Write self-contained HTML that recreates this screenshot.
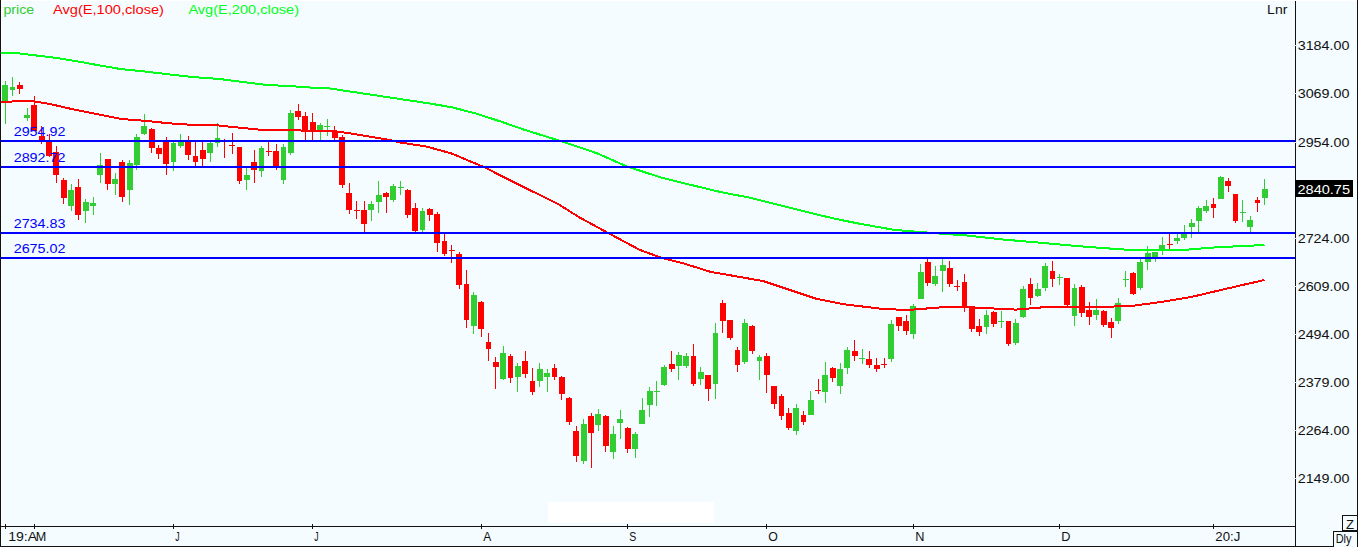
<!DOCTYPE html>
<html><head><meta charset="utf-8"><title>chart</title>
<style>
html,body{margin:0;padding:0;width:1358px;height:547px;overflow:hidden;background:#F4FCFF;}
svg{position:absolute;left:0;top:0;display:block;}
text{font-family:"Liberation Sans",sans-serif;}
</style></head><body>
<svg width="1358" height="547" viewBox="0 0 1358 547">
<rect x="0" y="0" width="1358" height="547" fill="#F4FCFF"/>
<rect x="0" y="0" width="1358" height="1" fill="#FFFFFF"/>
<rect x="1" y="0" width="1" height="547" fill="#FFFFFF"/>
<rect x="548" y="502" width="166" height="21" fill="#FFFFFF"/>

<g shape-rendering="crispEdges">
<rect x="5" y="81.0" width="1" height="43.2" fill="#32CD32"/>
<rect x="2" y="85.0" width="6" height="16.2" fill="#32CD32"/>
<rect x="12" y="77.0" width="1" height="19.2" fill="#32CD32"/>
<rect x="10" y="87.0" width="5" height="3.2" fill="#32CD32"/>
<rect x="19" y="82.0" width="1" height="12.2" fill="#FF0000"/>
<rect x="17" y="85.0" width="6" height="4.2" fill="#FF0000"/>
<rect x="27" y="108.0" width="1" height="13.2" fill="#32CD32"/>
<rect x="24" y="114.6" width="6" height="3.6" fill="#32CD32"/>
<rect x="34" y="96.0" width="1" height="35.2" fill="#FF0000"/>
<rect x="31" y="105.0" width="6" height="26.2" fill="#FF0000"/>
<rect x="41" y="126.0" width="1" height="18.2" fill="#FF0000"/>
<rect x="39" y="136.0" width="6" height="5.2" fill="#FF0000"/>
<rect x="49" y="134.0" width="1" height="23.2" fill="#FF0000"/>
<rect x="46" y="141.7" width="6" height="14.5" fill="#FF0000"/>
<rect x="56" y="146.0" width="1" height="37.2" fill="#FF0000"/>
<rect x="53" y="152.0" width="6" height="23.2" fill="#FF0000"/>
<rect x="63" y="178.0" width="1" height="25.7" fill="#FF0000"/>
<rect x="61" y="180.0" width="6" height="17.7" fill="#FF0000"/>
<rect x="71" y="184.0" width="1" height="26.7" fill="#32CD32"/>
<rect x="68" y="190.0" width="6" height="15.7" fill="#32CD32"/>
<rect x="78" y="179.0" width="1" height="40.8" fill="#FF0000"/>
<rect x="75" y="187.0" width="6" height="27.8" fill="#FF0000"/>
<rect x="85" y="198.5" width="1" height="24.3" fill="#32CD32"/>
<rect x="83" y="202.0" width="6" height="8.7" fill="#32CD32"/>
<rect x="93" y="197.0" width="1" height="17.8" fill="#32CD32"/>
<rect x="90" y="203.0" width="6" height="2.7" fill="#32CD32"/>
<rect x="100" y="153.3" width="1" height="29.3" fill="#32CD32"/>
<rect x="97" y="165.0" width="6" height="9.6" fill="#32CD32"/>
<rect x="107" y="159.0" width="1" height="30.7" fill="#FF0000"/>
<rect x="105" y="159.0" width="6" height="24.6" fill="#FF0000"/>
<rect x="115" y="173.4" width="1" height="21.3" fill="#32CD32"/>
<rect x="112" y="179.0" width="6" height="4.6" fill="#32CD32"/>
<rect x="122" y="159.7" width="1" height="42.0" fill="#FF0000"/>
<rect x="119" y="162.0" width="6" height="34.7" fill="#FF0000"/>
<rect x="129" y="159.7" width="1" height="45.0" fill="#32CD32"/>
<rect x="127" y="163.3" width="6" height="26.4" fill="#32CD32"/>
<rect x="136" y="134.0" width="1" height="35.5" fill="#32CD32"/>
<rect x="134" y="137.2" width="6" height="27.3" fill="#32CD32"/>
<rect x="144" y="114.0" width="1" height="21.4" fill="#32CD32"/>
<rect x="141" y="126.0" width="6" height="8.0" fill="#32CD32"/>
<rect x="151" y="128.0" width="1" height="25.1" fill="#FF0000"/>
<rect x="149" y="128.7" width="6" height="19.7" fill="#FF0000"/>
<rect x="158" y="145.2" width="1" height="13.3" fill="#FF0000"/>
<rect x="156" y="148.2" width="6" height="5.3" fill="#FF0000"/>
<rect x="166" y="137.2" width="1" height="37.4" fill="#FF0000"/>
<rect x="163" y="141.2" width="6" height="22.7" fill="#FF0000"/>
<rect x="173" y="142.2" width="1" height="28.4" fill="#32CD32"/>
<rect x="171" y="143.2" width="5" height="18.3" fill="#32CD32"/>
<rect x="180" y="134.2" width="1" height="14.2" fill="#32CD32"/>
<rect x="178" y="141.8" width="6" height="4.6" fill="#32CD32"/>
<rect x="188" y="136.2" width="1" height="23.3" fill="#FF0000"/>
<rect x="185" y="142.2" width="6" height="12.3" fill="#FF0000"/>
<rect x="195" y="142.2" width="1" height="23.3" fill="#FF0000"/>
<rect x="193" y="156.3" width="5" height="5.2" fill="#FF0000"/>
<rect x="202" y="141.2" width="1" height="25.4" fill="#FF0000"/>
<rect x="200" y="149.7" width="6" height="9.5" fill="#FF0000"/>
<rect x="210" y="142.3" width="1" height="19.3" fill="#32CD32"/>
<rect x="207" y="142.9" width="6" height="10.2" fill="#32CD32"/>
<rect x="217" y="123.2" width="1" height="23.3" fill="#32CD32"/>
<rect x="215" y="137.8" width="5" height="4.7" fill="#32CD32"/>
<rect x="224" y="139.1" width="1" height="18.9" fill="#FF0000"/>
<rect x="222" y="140.5" width="6" height="1.0" fill="#FF0000"/>
<rect x="232" y="132.9" width="1" height="21.1" fill="#FF0000"/>
<rect x="229" y="145.4" width="6" height="1.0" fill="#FF0000"/>
<rect x="239" y="146.9" width="1" height="36.8" fill="#FF0000"/>
<rect x="237" y="146.9" width="5" height="34.3" fill="#FF0000"/>
<rect x="246" y="167.8" width="1" height="21.9" fill="#32CD32"/>
<rect x="244" y="175.0" width="6" height="4.7" fill="#32CD32"/>
<rect x="254" y="149.7" width="1" height="33.5" fill="#FF0000"/>
<rect x="251" y="162.0" width="6" height="7.6" fill="#FF0000"/>
<rect x="261" y="145.7" width="1" height="30.9" fill="#32CD32"/>
<rect x="259" y="147.7" width="5" height="22.9" fill="#32CD32"/>
<rect x="268" y="141.7" width="1" height="14.2" fill="#FF0000"/>
<rect x="266" y="151.3" width="6" height="1.0" fill="#FF0000"/>
<rect x="276" y="143.7" width="1" height="26.3" fill="#FF0000"/>
<rect x="273" y="150.9" width="6" height="15.1" fill="#FF0000"/>
<rect x="283" y="143.7" width="1" height="40.0" fill="#32CD32"/>
<rect x="281" y="146.9" width="5" height="32.8" fill="#32CD32"/>
<rect x="290" y="110.1" width="1" height="44.4" fill="#32CD32"/>
<rect x="288" y="113.1" width="6" height="39.4" fill="#32CD32"/>
<rect x="298" y="104.0" width="1" height="16.3" fill="#FF0000"/>
<rect x="295" y="111.0" width="6" height="5.7" fill="#FF0000"/>
<rect x="305" y="111.7" width="1" height="28.7" fill="#FF0000"/>
<rect x="302" y="116.1" width="6" height="14.3" fill="#FF0000"/>
<rect x="312" y="113.0" width="1" height="27.4" fill="#FF0000"/>
<rect x="310" y="122.1" width="6" height="8.7" fill="#FF0000"/>
<rect x="320" y="123.1" width="1" height="17.3" fill="#32CD32"/>
<rect x="317" y="125.1" width="6" height="4.9" fill="#32CD32"/>
<rect x="327" y="119.1" width="1" height="16.9" fill="#32CD32"/>
<rect x="324" y="126.1" width="6" height="1.0" fill="#32CD32"/>
<rect x="334" y="125.7" width="1" height="14.7" fill="#FF0000"/>
<rect x="332" y="130.6" width="6" height="7.8" fill="#FF0000"/>
<rect x="342" y="135.2" width="1" height="52.5" fill="#FF0000"/>
<rect x="339" y="136.8" width="6" height="48.2" fill="#FF0000"/>
<rect x="349" y="183.0" width="1" height="30.8" fill="#FF0000"/>
<rect x="346" y="193.1" width="6" height="16.7" fill="#FF0000"/>
<rect x="356" y="200.7" width="1" height="18.3" fill="#FF0000"/>
<rect x="354" y="210.2" width="6" height="1.0" fill="#FF0000"/>
<rect x="364" y="200.7" width="1" height="31.8" fill="#FF0000"/>
<rect x="361" y="210.2" width="6" height="13.7" fill="#FF0000"/>
<rect x="371" y="200.7" width="1" height="20.3" fill="#32CD32"/>
<rect x="368" y="204.2" width="6" height="5.6" fill="#32CD32"/>
<rect x="378" y="181.0" width="1" height="32.0" fill="#32CD32"/>
<rect x="376" y="195.1" width="6" height="6.6" fill="#32CD32"/>
<rect x="386" y="192.1" width="1" height="20.9" fill="#FF0000"/>
<rect x="383" y="192.7" width="6" height="4.2" fill="#FF0000"/>
<rect x="393" y="184.0" width="1" height="17.7" fill="#32CD32"/>
<rect x="390" y="186.1" width="6" height="13.6" fill="#32CD32"/>
<rect x="400" y="181.0" width="1" height="13.9" fill="#32CD32"/>
<rect x="398" y="186.8" width="6" height="1.0" fill="#32CD32"/>
<rect x="407" y="189.1" width="1" height="28.7" fill="#FF0000"/>
<rect x="405" y="189.5" width="6" height="25.5" fill="#FF0000"/>
<rect x="415" y="203.2" width="1" height="28.7" fill="#FF0000"/>
<rect x="412" y="208.2" width="6" height="22.9" fill="#FF0000"/>
<rect x="422" y="208.2" width="1" height="23.7" fill="#32CD32"/>
<rect x="420" y="211.2" width="5" height="18.7" fill="#32CD32"/>
<rect x="429" y="208.2" width="1" height="12.8" fill="#FF0000"/>
<rect x="427" y="209.2" width="6" height="5.8" fill="#FF0000"/>
<rect x="437" y="212.2" width="1" height="39.4" fill="#FF0000"/>
<rect x="434" y="214.2" width="6" height="29.0" fill="#FF0000"/>
<rect x="444" y="233.0" width="1" height="23.3" fill="#FF0000"/>
<rect x="442" y="241.1" width="5" height="12.8" fill="#FF0000"/>
<rect x="451" y="245.1" width="1" height="18.3" fill="#FF0000"/>
<rect x="449" y="250.1" width="6" height="1.0" fill="#FF0000"/>
<rect x="459" y="252.1" width="1" height="36.4" fill="#FF0000"/>
<rect x="456" y="254.1" width="6" height="30.8" fill="#FF0000"/>
<rect x="466" y="270.2" width="1" height="57.5" fill="#FF0000"/>
<rect x="464" y="283.9" width="5" height="35.8" fill="#FF0000"/>
<rect x="473" y="292.3" width="1" height="41.5" fill="#32CD32"/>
<rect x="471" y="295.0" width="6" height="30.7" fill="#32CD32"/>
<rect x="481" y="300.8" width="1" height="36.0" fill="#FF0000"/>
<rect x="478" y="302.0" width="6" height="26.7" fill="#FF0000"/>
<rect x="488" y="333.1" width="1" height="27.7" fill="#FF0000"/>
<rect x="486" y="342.1" width="5" height="6.7" fill="#FF0000"/>
<rect x="495" y="357.2" width="1" height="31.8" fill="#FF0000"/>
<rect x="493" y="362.2" width="6" height="4.7" fill="#FF0000"/>
<rect x="503" y="346.1" width="1" height="33.4" fill="#32CD32"/>
<rect x="500" y="353.2" width="6" height="25.7" fill="#32CD32"/>
<rect x="510" y="354.2" width="1" height="28.7" fill="#FF0000"/>
<rect x="508" y="356.2" width="5" height="21.9" fill="#FF0000"/>
<rect x="517" y="363.2" width="1" height="28.4" fill="#32CD32"/>
<rect x="515" y="366.2" width="6" height="10.7" fill="#32CD32"/>
<rect x="525" y="351.2" width="1" height="26.9" fill="#FF0000"/>
<rect x="522" y="361.2" width="6" height="12.9" fill="#FF0000"/>
<rect x="532" y="368.3" width="1" height="26.7" fill="#FF0000"/>
<rect x="530" y="381.3" width="5" height="10.9" fill="#FF0000"/>
<rect x="539" y="363.2" width="1" height="23.8" fill="#32CD32"/>
<rect x="537" y="369.3" width="6" height="11.2" fill="#32CD32"/>
<rect x="547" y="369.3" width="1" height="22.9" fill="#32CD32"/>
<rect x="544" y="373.3" width="6" height="3.6" fill="#32CD32"/>
<rect x="554" y="363.8" width="1" height="16.3" fill="#FF0000"/>
<rect x="552" y="368.3" width="5" height="8.6" fill="#FF0000"/>
<rect x="561" y="376.3" width="1" height="23.9" fill="#FF0000"/>
<rect x="559" y="377.3" width="6" height="16.9" fill="#FF0000"/>
<rect x="569" y="397.2" width="1" height="28.0" fill="#FF0000"/>
<rect x="566" y="397.9" width="6" height="24.1" fill="#FF0000"/>
<rect x="576" y="426.0" width="1" height="36.2" fill="#FF0000"/>
<rect x="573" y="430.8" width="6" height="25.1" fill="#FF0000"/>
<rect x="583" y="419.1" width="1" height="44.9" fill="#32CD32"/>
<rect x="581" y="424.0" width="6" height="37.0" fill="#32CD32"/>
<rect x="591" y="412.8" width="1" height="55.2" fill="#FF0000"/>
<rect x="588" y="415.9" width="6" height="17.0" fill="#FF0000"/>
<rect x="598" y="408.9" width="1" height="22.1" fill="#32CD32"/>
<rect x="595" y="414.0" width="6" height="10.9" fill="#32CD32"/>
<rect x="605" y="415.0" width="1" height="37.0" fill="#FF0000"/>
<rect x="603" y="415.9" width="6" height="30.2" fill="#FF0000"/>
<rect x="613" y="425.7" width="1" height="33.4" fill="#32CD32"/>
<rect x="610" y="434.1" width="6" height="17.9" fill="#32CD32"/>
<rect x="620" y="409.9" width="1" height="29.2" fill="#32CD32"/>
<rect x="617" y="419.1" width="6" height="3.9" fill="#32CD32"/>
<rect x="627" y="426.9" width="1" height="26.4" fill="#FF0000"/>
<rect x="625" y="427.9" width="6" height="21.1" fill="#FF0000"/>
<rect x="635" y="432.0" width="1" height="26.1" fill="#32CD32"/>
<rect x="632" y="434.1" width="6" height="14.9" fill="#32CD32"/>
<rect x="642" y="397.9" width="1" height="25.8" fill="#32CD32"/>
<rect x="639" y="410.1" width="6" height="13.9" fill="#32CD32"/>
<rect x="649" y="386.6" width="1" height="30.6" fill="#32CD32"/>
<rect x="647" y="391.0" width="6" height="13.8" fill="#32CD32"/>
<rect x="656" y="381.0" width="1" height="25.0" fill="#32CD32"/>
<rect x="654" y="390.5" width="6" height="1.0" fill="#32CD32"/>
<rect x="664" y="365.0" width="1" height="20.6" fill="#32CD32"/>
<rect x="661" y="366.8" width="6" height="18.2" fill="#32CD32"/>
<rect x="671" y="351.0" width="1" height="20.8" fill="#FF0000"/>
<rect x="669" y="364.2" width="6" height="5.0" fill="#FF0000"/>
<rect x="678" y="351.9" width="1" height="27.8" fill="#32CD32"/>
<rect x="676" y="354.7" width="6" height="11.2" fill="#32CD32"/>
<rect x="686" y="353.2" width="1" height="14.9" fill="#32CD32"/>
<rect x="683" y="355.8" width="6" height="10.1" fill="#32CD32"/>
<rect x="693" y="343.8" width="1" height="42.3" fill="#FF0000"/>
<rect x="691" y="355.8" width="5" height="28.3" fill="#FF0000"/>
<rect x="700" y="366.8" width="1" height="18.2" fill="#32CD32"/>
<rect x="698" y="372.3" width="6" height="6.3" fill="#32CD32"/>
<rect x="708" y="375.1" width="1" height="25.9" fill="#FF0000"/>
<rect x="705" y="375.1" width="6" height="13.8" fill="#FF0000"/>
<rect x="715" y="322.9" width="1" height="75.9" fill="#32CD32"/>
<rect x="713" y="332.8" width="5" height="51.3" fill="#32CD32"/>
<rect x="722" y="299.9" width="1" height="33.1" fill="#FF0000"/>
<rect x="720" y="302.7" width="6" height="18.2" fill="#FF0000"/>
<rect x="730" y="319.6" width="1" height="20.6" fill="#FF0000"/>
<rect x="727" y="320.3" width="6" height="17.7" fill="#FF0000"/>
<rect x="737" y="346.8" width="1" height="25.2" fill="#FF0000"/>
<rect x="735" y="349.9" width="5" height="15.0" fill="#FF0000"/>
<rect x="744" y="319.0" width="1" height="44.7" fill="#32CD32"/>
<rect x="742" y="323.1" width="6" height="38.9" fill="#32CD32"/>
<rect x="752" y="324.7" width="1" height="29.5" fill="#FF0000"/>
<rect x="749" y="326.2" width="6" height="24.9" fill="#FF0000"/>
<rect x="759" y="355.1" width="1" height="24.5" fill="#32CD32"/>
<rect x="757" y="357.0" width="5" height="3.6" fill="#32CD32"/>
<rect x="766" y="353.2" width="1" height="39.7" fill="#FF0000"/>
<rect x="764" y="355.9" width="6" height="18.9" fill="#FF0000"/>
<rect x="774" y="385.6" width="1" height="23.2" fill="#FF0000"/>
<rect x="771" y="386.0" width="6" height="18.1" fill="#FF0000"/>
<rect x="781" y="394.4" width="1" height="25.6" fill="#FF0000"/>
<rect x="779" y="395.5" width="5" height="20.4" fill="#FF0000"/>
<rect x="788" y="407.9" width="1" height="21.6" fill="#FF0000"/>
<rect x="786" y="412.6" width="6" height="15.2" fill="#FF0000"/>
<rect x="796" y="403.9" width="1" height="31.0" fill="#32CD32"/>
<rect x="793" y="407.9" width="6" height="23.0" fill="#32CD32"/>
<rect x="803" y="411.0" width="1" height="14.4" fill="#FF0000"/>
<rect x="801" y="415.0" width="5" height="6.9" fill="#FF0000"/>
<rect x="810" y="390.8" width="1" height="23.9" fill="#32CD32"/>
<rect x="808" y="399.8" width="6" height="14.9" fill="#32CD32"/>
<rect x="818" y="378.9" width="1" height="14.9" fill="#FF0000"/>
<rect x="815" y="390.3" width="6" height="1.0" fill="#FF0000"/>
<rect x="825" y="361.8" width="1" height="41.1" fill="#32CD32"/>
<rect x="822" y="374.6" width="6" height="17.6" fill="#32CD32"/>
<rect x="832" y="366.5" width="1" height="15.5" fill="#FF0000"/>
<rect x="830" y="367.5" width="6" height="10.4" fill="#FF0000"/>
<rect x="840" y="362.7" width="1" height="31.1" fill="#32CD32"/>
<rect x="837" y="368.9" width="6" height="17.3" fill="#32CD32"/>
<rect x="847" y="346.9" width="1" height="26.8" fill="#32CD32"/>
<rect x="844" y="349.8" width="6" height="18.0" fill="#32CD32"/>
<rect x="854" y="339.8" width="1" height="20.9" fill="#FF0000"/>
<rect x="852" y="351.0" width="6" height="4.9" fill="#FF0000"/>
<rect x="862" y="348.6" width="1" height="15.6" fill="#32CD32"/>
<rect x="859" y="358.1" width="6" height="1.0" fill="#32CD32"/>
<rect x="869" y="351.0" width="1" height="16.8" fill="#FF0000"/>
<rect x="866" y="359.3" width="6" height="6.1" fill="#FF0000"/>
<rect x="876" y="358.1" width="1" height="13.7" fill="#FF0000"/>
<rect x="874" y="365.2" width="6" height="3.8" fill="#FF0000"/>
<rect x="884" y="358.1" width="1" height="9.7" fill="#FF0000"/>
<rect x="881" y="363.6" width="6" height="1.0" fill="#FF0000"/>
<rect x="891" y="320.1" width="1" height="41.8" fill="#32CD32"/>
<rect x="888" y="324.1" width="6" height="34.9" fill="#32CD32"/>
<rect x="898" y="316.5" width="1" height="14.5" fill="#FF0000"/>
<rect x="896" y="317.0" width="6" height="8.8" fill="#FF0000"/>
<rect x="906" y="314.6" width="1" height="20.6" fill="#FF0000"/>
<rect x="903" y="320.8" width="6" height="10.2" fill="#FF0000"/>
<rect x="913" y="303.5" width="1" height="35.1" fill="#32CD32"/>
<rect x="910" y="306.3" width="6" height="27.5" fill="#32CD32"/>
<rect x="920" y="264.3" width="1" height="34.6" fill="#32CD32"/>
<rect x="918" y="272.1" width="6" height="26.8" fill="#32CD32"/>
<rect x="927" y="259.0" width="1" height="26.8" fill="#FF0000"/>
<rect x="925" y="261.9" width="6" height="21.1" fill="#FF0000"/>
<rect x="935" y="266.2" width="1" height="19.6" fill="#32CD32"/>
<rect x="932" y="276.1" width="6" height="7.8" fill="#32CD32"/>
<rect x="942" y="258.7" width="1" height="33.2" fill="#32CD32"/>
<rect x="940" y="264.7" width="6" height="6.2" fill="#32CD32"/>
<rect x="949" y="261.1" width="1" height="25.9" fill="#FF0000"/>
<rect x="947" y="268.1" width="6" height="15.7" fill="#FF0000"/>
<rect x="957" y="279.6" width="1" height="11.4" fill="#FF0000"/>
<rect x="954" y="286.2" width="6" height="1.0" fill="#FF0000"/>
<rect x="964" y="274.2" width="1" height="37.8" fill="#FF0000"/>
<rect x="962" y="281.8" width="5" height="25.3" fill="#FF0000"/>
<rect x="971" y="306.3" width="1" height="25.8" fill="#FF0000"/>
<rect x="969" y="306.3" width="6" height="22.4" fill="#FF0000"/>
<rect x="979" y="319.0" width="1" height="16.7" fill="#FF0000"/>
<rect x="976" y="325.8" width="6" height="6.3" fill="#FF0000"/>
<rect x="986" y="309.7" width="1" height="24.0" fill="#32CD32"/>
<rect x="984" y="315.0" width="5" height="12.2" fill="#32CD32"/>
<rect x="993" y="311.0" width="1" height="16.2" fill="#FF0000"/>
<rect x="991" y="311.8" width="6" height="12.2" fill="#FF0000"/>
<rect x="1001" y="311.0" width="1" height="16.6" fill="#32CD32"/>
<rect x="998" y="321.4" width="6" height="1.0" fill="#32CD32"/>
<rect x="1008" y="321.0" width="1" height="24.7" fill="#FF0000"/>
<rect x="1006" y="321.0" width="5" height="23.1" fill="#FF0000"/>
<rect x="1015" y="319.0" width="1" height="25.7" fill="#32CD32"/>
<rect x="1013" y="323.0" width="6" height="20.3" fill="#32CD32"/>
<rect x="1023" y="286.2" width="1" height="31.4" fill="#32CD32"/>
<rect x="1020" y="288.8" width="6" height="27.8" fill="#32CD32"/>
<rect x="1030" y="278.2" width="1" height="26.9" fill="#FF0000"/>
<rect x="1028" y="284.2" width="5" height="13.7" fill="#FF0000"/>
<rect x="1037" y="283.3" width="1" height="13.7" fill="#32CD32"/>
<rect x="1035" y="289.3" width="6" height="6.9" fill="#32CD32"/>
<rect x="1045" y="263.2" width="1" height="27.3" fill="#32CD32"/>
<rect x="1042" y="266.2" width="6" height="21.3" fill="#32CD32"/>
<rect x="1052" y="261.2" width="1" height="25.7" fill="#FF0000"/>
<rect x="1050" y="271.2" width="5" height="7.3" fill="#FF0000"/>
<rect x="1059" y="273.8" width="1" height="11.1" fill="#32CD32"/>
<rect x="1057" y="276.7" width="6" height="1.0" fill="#32CD32"/>
<rect x="1067" y="277.9" width="1" height="30.3" fill="#FF0000"/>
<rect x="1064" y="278.3" width="6" height="26.3" fill="#FF0000"/>
<rect x="1074" y="284.3" width="1" height="41.4" fill="#32CD32"/>
<rect x="1072" y="288.3" width="5" height="27.4" fill="#32CD32"/>
<rect x="1081" y="284.7" width="1" height="32.0" fill="#FF0000"/>
<rect x="1079" y="287.3" width="6" height="25.3" fill="#FF0000"/>
<rect x="1089" y="302.4" width="1" height="22.3" fill="#FF0000"/>
<rect x="1086" y="310.0" width="6" height="6.7" fill="#FF0000"/>
<rect x="1096" y="299.4" width="1" height="20.3" fill="#32CD32"/>
<rect x="1093" y="310.0" width="6" height="4.7" fill="#32CD32"/>
<rect x="1103" y="310.4" width="1" height="16.7" fill="#FF0000"/>
<rect x="1101" y="311.4" width="6" height="13.3" fill="#FF0000"/>
<rect x="1111" y="318.1" width="1" height="19.7" fill="#FF0000"/>
<rect x="1108" y="321.5" width="6" height="6.2" fill="#FF0000"/>
<rect x="1118" y="298.0" width="1" height="25.7" fill="#32CD32"/>
<rect x="1115" y="303.4" width="6" height="17.3" fill="#32CD32"/>
<rect x="1125" y="271.2" width="1" height="15.7" fill="#32CD32"/>
<rect x="1123" y="279.3" width="6" height="1.0" fill="#32CD32"/>
<rect x="1133" y="271.8" width="1" height="23.1" fill="#FF0000"/>
<rect x="1130" y="272.6" width="6" height="21.5" fill="#FF0000"/>
<rect x="1140" y="258.6" width="1" height="31.5" fill="#32CD32"/>
<rect x="1137" y="261.8" width="6" height="26.3" fill="#32CD32"/>
<rect x="1147" y="245.9" width="1" height="24.2" fill="#32CD32"/>
<rect x="1145" y="253.2" width="6" height="8.5" fill="#32CD32"/>
<rect x="1155" y="251.7" width="1" height="10.5" fill="#32CD32"/>
<rect x="1152" y="252.0" width="6" height="5.4" fill="#32CD32"/>
<rect x="1162" y="237.1" width="1" height="18.1" fill="#32CD32"/>
<rect x="1159" y="245.0" width="6" height="4.6" fill="#32CD32"/>
<rect x="1169" y="233.8" width="1" height="15.2" fill="#FF0000"/>
<rect x="1167" y="243.7" width="6" height="1.0" fill="#FF0000"/>
<rect x="1177" y="234.2" width="1" height="10.0" fill="#32CD32"/>
<rect x="1174" y="238.1" width="6" height="2.7" fill="#32CD32"/>
<rect x="1184" y="225.0" width="1" height="14.8" fill="#32CD32"/>
<rect x="1181" y="233.8" width="6" height="4.1" fill="#32CD32"/>
<rect x="1191" y="219.0" width="1" height="18.9" fill="#32CD32"/>
<rect x="1189" y="223.2" width="6" height="3.5" fill="#32CD32"/>
<rect x="1198" y="206.1" width="1" height="26.1" fill="#32CD32"/>
<rect x="1196" y="208.0" width="6" height="12.8" fill="#32CD32"/>
<rect x="1206" y="200.0" width="1" height="13.0" fill="#32CD32"/>
<rect x="1203" y="206.1" width="6" height="5.0" fill="#32CD32"/>
<rect x="1213" y="197.9" width="1" height="20.1" fill="#FF0000"/>
<rect x="1211" y="204.1" width="5" height="3.9" fill="#FF0000"/>
<rect x="1220" y="176.2" width="1" height="22.6" fill="#32CD32"/>
<rect x="1218" y="177.1" width="6" height="21.7" fill="#32CD32"/>
<rect x="1228" y="177.9" width="1" height="14.2" fill="#FF0000"/>
<rect x="1225" y="181.1" width="6" height="4.9" fill="#FF0000"/>
<rect x="1235" y="194.1" width="1" height="28.7" fill="#FF0000"/>
<rect x="1233" y="194.1" width="5" height="27.1" fill="#FF0000"/>
<rect x="1242" y="200.0" width="1" height="21.7" fill="#32CD32"/>
<rect x="1240" y="212.3" width="6" height="1.0" fill="#32CD32"/>
<rect x="1250" y="216.0" width="1" height="15.7" fill="#32CD32"/>
<rect x="1247" y="220.1" width="6" height="6.8" fill="#32CD32"/>
<rect x="1257" y="197.2" width="1" height="14.6" fill="#FF0000"/>
<rect x="1255" y="200.4" width="5" height="2.5" fill="#FF0000"/>
<rect x="1264" y="178.7" width="1" height="26.3" fill="#32CD32"/>
<rect x="1262" y="189.0" width="6" height="9.1" fill="#32CD32"/>
</g>
<polyline points="0.0,52.6 19.4,53.4 38.9,55.8 58.3,58.2 77.8,61.4 97.2,65.0 121.5,69.2 145.8,71.6 170.1,74.5 194.4,77.2 218.7,78.9 243.0,82.0 267.3,85.0 291.6,86.2 315.9,87.9 330.0,88.5 378.6,95.8 427.2,103.1 451.5,107.2 475.8,113.5 500.1,121.3 524.4,129.8 558.4,140.3 573.0,145.1 597.3,153.4 626.5,166.3 660.0,177.2 674.4,180.9 700.0,187.1 723.6,192.7 747.1,197.1 770.7,203.0 794.3,208.9 817.8,214.8 841.4,220.1 860.0,223.8 894.4,229.9 918.7,231.9 943.0,233.8 967.3,235.5 1003.8,239.6 1040.0,242.7 1075.3,245.9 1110.7,248.6 1128.4,249.8 1184.9,249.8 1216.7,247.3 1264.5,245.0" fill="none" stroke="#00FF1A" stroke-width="2" shape-rendering="crispEdges"/>
<polyline points="0.0,102.0 29.2,100.8 48.6,103.7 72.9,109.3 97.2,114.1 121.5,119.0 145.8,120.9 170.1,123.4 194.4,125.0 218.7,125.5 243.0,128.0 267.3,130.4 330.0,130.6 354.3,134.0 387.1,139.5 400.0,142.5 425.6,146.4 451.2,153.3 484.4,167.3 504.3,177.3 527.9,189.1 558.7,204.4 579.1,217.2 609.8,233.9 640.0,250.0 661.2,257.7 684.2,263.6 710.7,271.9 737.2,276.5 763.7,281.2 790.2,290.1 816.7,298.9 843.3,304.2 880.0,308.6 906.6,310.1 943.0,307.2 967.3,307.2 1015.9,309.6 1044.2,307.2 1088.4,306.7 1128.4,306.4 1163.7,301.6 1190.2,297.2 1216.7,291.0 1243.3,284.8 1264.5,280.0" fill="none" stroke="#FF0000" stroke-width="2" shape-rendering="crispEdges"/>
<g shape-rendering="crispEdges">
<rect x="1" y="140" width="1294" height="2" fill="#0000FF"/>
<rect x="1" y="166" width="1294" height="2" fill="#0000FF"/>
<rect x="1" y="232" width="1294" height="2" fill="#0000FF"/>
<rect x="1" y="257" width="1294" height="2" fill="#0000FF"/>
</g>
<g shape-rendering="crispEdges" fill="#111">
<rect x="0" y="0" width="1" height="547"/>
<rect x="1357" y="0" width="1" height="547"/>
<rect x="0" y="546" width="1358" height="1"/>
<rect x="1295" y="1" width="1" height="546"/>
<rect x="0" y="526" width="1295" height="1"/>

<rect x="5" y="524" width="1" height="5"/>
<rect x="34" y="524" width="1" height="5"/>
<rect x="173" y="524" width="1" height="5"/>
<rect x="312" y="524" width="1" height="5"/>
<rect x="481" y="524" width="1" height="5"/>
<rect x="627" y="524" width="1" height="5"/>
<rect x="766" y="524" width="1" height="5"/>
<rect x="913" y="524" width="1" height="5"/>
<rect x="1059" y="524" width="1" height="5"/>
<rect x="1213" y="524" width="1" height="5"/>
</g>
<text x="3.4" y="14" fill="#32CD32" font-size="12.5" textLength="30.8" lengthAdjust="spacingAndGlyphs">price</text>
<text x="53" y="14" fill="#FF0000" font-size="12.5" textLength="111" lengthAdjust="spacingAndGlyphs">Avg(E,100,close)</text>
<text x="188.4" y="14" fill="#00FF1A" font-size="12.5" textLength="110.6" lengthAdjust="spacingAndGlyphs">Avg(E,200,close)</text>
<text x="1267.1" y="14" fill="#111" font-size="12.5" textLength="20.3" lengthAdjust="spacingAndGlyphs">Lnr</text>
<rect x="1293" y="45" width="4" height="1" fill="#E4ECF2" shape-rendering="crispEdges"/>
<text x="1297.7" y="49.6" fill="#111" font-size="12.5" textLength="51.8" lengthAdjust="spacingAndGlyphs">3184.00</text>
<rect x="1293" y="93" width="4" height="1" fill="#E4ECF2" shape-rendering="crispEdges"/>
<text x="1297.7" y="97.6" fill="#111" font-size="12.5" textLength="51.8" lengthAdjust="spacingAndGlyphs">3069.00</text>
<rect x="1293" y="142" width="4" height="1" fill="#E4ECF2" shape-rendering="crispEdges"/>
<text x="1297.7" y="146.6" fill="#111" font-size="12.5" textLength="51.8" lengthAdjust="spacingAndGlyphs">2954.00</text>
<rect x="1293" y="238" width="4" height="1" fill="#E4ECF2" shape-rendering="crispEdges"/>
<text x="1297.7" y="242.6" fill="#111" font-size="12.5" textLength="51.8" lengthAdjust="spacingAndGlyphs">2724.00</text>
<rect x="1293" y="286" width="4" height="1" fill="#E4ECF2" shape-rendering="crispEdges"/>
<text x="1297.7" y="290.6" fill="#111" font-size="12.5" textLength="51.8" lengthAdjust="spacingAndGlyphs">2609.00</text>
<rect x="1293" y="334" width="4" height="1" fill="#E4ECF2" shape-rendering="crispEdges"/>
<text x="1297.7" y="338.6" fill="#111" font-size="12.5" textLength="51.8" lengthAdjust="spacingAndGlyphs">2494.00</text>
<rect x="1293" y="382" width="4" height="1" fill="#E4ECF2" shape-rendering="crispEdges"/>
<text x="1297.7" y="386.6" fill="#111" font-size="12.5" textLength="51.8" lengthAdjust="spacingAndGlyphs">2379.00</text>
<rect x="1293" y="430" width="4" height="1" fill="#E4ECF2" shape-rendering="crispEdges"/>
<text x="1297.7" y="434.6" fill="#111" font-size="12.5" textLength="51.8" lengthAdjust="spacingAndGlyphs">2264.00</text>
<rect x="1293" y="478" width="4" height="1" fill="#E4ECF2" shape-rendering="crispEdges"/>
<text x="1297.7" y="482.6" fill="#111" font-size="12.5" textLength="51.8" lengthAdjust="spacingAndGlyphs">2149.00</text>
<rect x="1295" y="180" width="58" height="17" fill="#000" shape-rendering="crispEdges"/>
<text x="1297.5" y="194" fill="#FFFFFF" font-size="12.5" textLength="52.5" lengthAdjust="spacingAndGlyphs">2840.75</text>
<text x="13.7" y="135.5" fill="#0000FF" font-size="12.5" textLength="51.8" lengthAdjust="spacingAndGlyphs">2954.92</text>
<text x="13.7" y="161.5" fill="#0000FF" font-size="12.5" textLength="51.8" lengthAdjust="spacingAndGlyphs">2892.72</text>
<text x="13.7" y="227.5" fill="#0000FF" font-size="12.5" textLength="51.8" lengthAdjust="spacingAndGlyphs">2734.83</text>
<text x="13.7" y="252.5" fill="#0000FF" font-size="12.5" textLength="51.8" lengthAdjust="spacingAndGlyphs">2675.02</text>
<text x="8.2" y="540.7" fill="#111" font-size="12.5" textLength="29" lengthAdjust="spacingAndGlyphs">19:A</text>
<text x="35.7" y="540.7" fill="#111" font-size="12.5" textLength="10.5" lengthAdjust="spacingAndGlyphs">M</text>
<text x="175.3" y="540.7" fill="#111" font-size="12.5" textLength="4.3" lengthAdjust="spacingAndGlyphs">J</text>
<text x="314.3" y="540.7" fill="#111" font-size="12.5" textLength="4.3" lengthAdjust="spacingAndGlyphs">J</text>
<text x="483.3" y="540.7" fill="#111" font-size="12.5" textLength="8" lengthAdjust="spacingAndGlyphs">A</text>
<text x="629.3" y="540.7" fill="#111" font-size="12.5" textLength="7" lengthAdjust="spacingAndGlyphs">S</text>
<text x="768.3" y="540.7" fill="#111" font-size="12.5" textLength="9.6" lengthAdjust="spacingAndGlyphs">O</text>
<text x="915.3" y="540.7" fill="#111" font-size="12.5" textLength="9.2" lengthAdjust="spacingAndGlyphs">N</text>
<text x="1061.3" y="540.7" fill="#111" font-size="12.5" textLength="9.2" lengthAdjust="spacingAndGlyphs">D</text>
<text x="1215.3" y="540.7" fill="#111" font-size="12.5" textLength="25" lengthAdjust="spacingAndGlyphs">20:J</text>
<g shape-rendering="crispEdges">
<rect x="1342.5" y="515.5" width="15" height="15" fill="#F4FCFF" stroke="#111" stroke-width="1"/>
<rect x="1333.5" y="531.5" width="24" height="16" fill="#F4FCFF" stroke="#111" stroke-width="1"/>
</g>
<text x="1346" y="529" fill="#111" font-size="12.5" textLength="8" lengthAdjust="spacingAndGlyphs">Z</text>
<text x="1335.7" y="542.5" fill="#111" font-size="12.5" textLength="15.8" lengthAdjust="spacingAndGlyphs">Dly</text>
</svg></body></html>
